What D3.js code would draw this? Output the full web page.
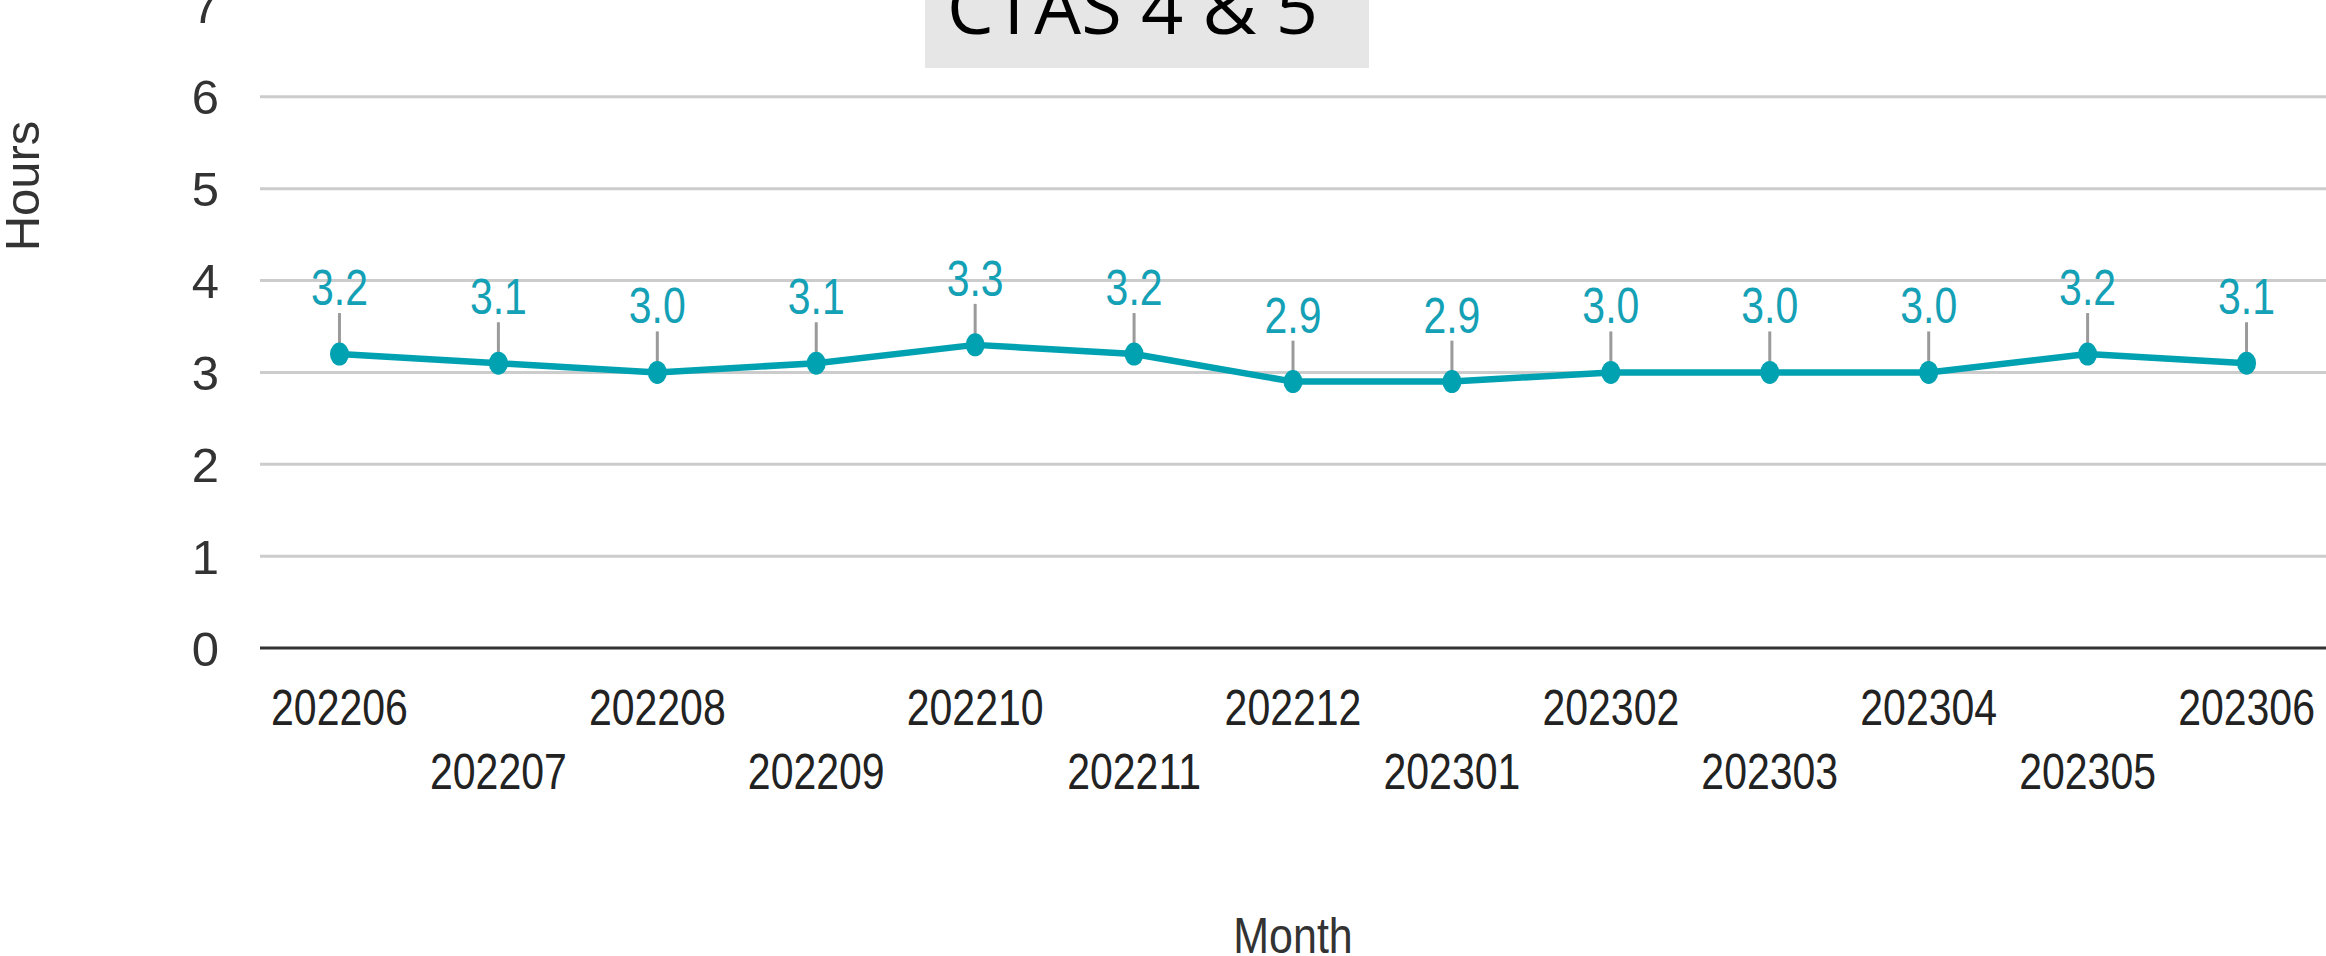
<!doctype html>
<html>
  <head>
    <script src="https://cdnjs.cloudflare.com/ajax/libs/d3/7.8.5/d3.min.js"></script>
    <style>
      html, body { margin: 0; padding: 0; background: #ffffff; overflow: hidden; }
      svg { display: block; }
    </style>
  </head>
  <body>
    <svg id="chart"></svg>
    <script>
      // data
      var months = ["202206", "202207", "202208", "202209", "202210", "202211", "202212",
                    "202301", "202302", "202303", "202304", "202305", "202306"];
      var hours = [3.2, 3.1, 3.0, 3.1, 3.3, 3.2, 2.9, 2.9, 3.0, 3.0, 3.0, 3.2, 3.1];
      var yTicks = [0, 1, 2, 3, 4, 5, 6, 7];
      var titleText = "CTAS 4 & 5";

      var width = 2326, height = 956;
      // plot area (window.top is reserved, so use other names)
      var plotLeft = 260, plotRight = 2326, plotTop = 5, plotBottom = 648;
      var teal = "#00a1b1", labelTeal = "#14a0b5";
      var narrow = 0.82;   // labels look horizontally squeezed

      var svg = d3.select("#chart").attr("width", width).attr("height", height);

      var x = d3.scalePoint().domain(months).range([plotLeft, plotRight]).padding(0.5);
      var y = d3.scaleLinear().domain([0, 7]).range([plotBottom, plotTop]);

      // grid lines (top one at 7 is not drawn)
      svg.append("g").selectAll("line")
        .data(yTicks.filter(function(d){ return d > 0 && d < 7; }))
        .enter().append("line")
          .attr("x1", plotLeft).attr("x2", plotRight)
          .attr("y1", function(d){ return y(d); })
          .attr("y2", function(d){ return y(d); })
          .attr("stroke", "#cccccc").attr("stroke-width", 3);

      // zero axis
      svg.append("line")
        .attr("x1", plotLeft).attr("x2", plotRight)
        .attr("y1", y(0)).attr("y2", y(0))
        .attr("stroke", "#333333").attr("stroke-width", 3);

      // y tick labels
      svg.append("g").selectAll("text")
        .data(yTicks).enter().append("text")
          .attr("x", 219).attr("y", function(d){ return y(d); })
          .attr("dy", "0.36em")
          .attr("text-anchor", "end")
          .attr("font-family", "Liberation Sans, Arial, sans-serif")
          .attr("font-size", 49).attr("fill", "#333333")
          .text(function(d){ return d; });

      // x tick labels, staggered on two rows
      svg.append("g").selectAll("text")
        .data(months).enter().append("text")
          .attr("transform", function(d, i){
            return "translate(" + x(d) + "," + (i % 2 === 0 ? 725 : 789) + ") scale(" + narrow + ",1)";
          })
          .attr("text-anchor", "middle")
          .attr("font-family", "Liberation Sans, Arial, sans-serif")
          .attr("font-size", 50).attr("fill", "#222222")
          .text(function(d){ return d; });

      // axis titles
      svg.append("text")
        .attr("transform", "translate(" + ((plotLeft + plotRight) / 2) + ",953) scale(0.86,1)")
        .attr("text-anchor", "middle")
        .attr("font-family", "Liberation Sans, Arial, sans-serif")
        .attr("font-size", 50).attr("fill", "#333333")
        .text("Month");

      svg.append("text")
        .attr("transform", "translate(39,186) rotate(-90)")
        .attr("text-anchor", "middle")
        .attr("font-family", "Liberation Sans, Arial, sans-serif")
        .attr("font-size", 49).attr("fill", "#333333")
        .text("Hours");

      // leader lines from labels to points
      svg.append("g").selectAll("line")
        .data(hours).enter().append("line")
          .attr("x1", function(d, i){ return x(months[i]); })
          .attr("x2", function(d, i){ return x(months[i]); })
          .attr("y1", function(d){ return y(d) - 41; })
          .attr("y2", function(d){ return y(d); })
          .attr("stroke", "#9a9a9a").attr("stroke-width", 3);

      // the line
      var line = d3.line()
        .x(function(d, i){ return x(months[i]); })
        .y(function(d){ return y(d); });
      svg.append("path")
        .datum(hours)
        .attr("d", line)
        .attr("fill", "none")
        .attr("stroke", teal).attr("stroke-width", 6.5)
        .attr("stroke-linejoin", "round");

      // points
      svg.append("g").selectAll("ellipse")
        .data(hours).enter().append("ellipse")
          .attr("cx", function(d, i){ return x(months[i]); })
          .attr("cy", function(d){ return y(d); })
          .attr("rx", 9.5).attr("ry", 11.5)
          .attr("fill", teal);

      // value labels
      svg.append("g").selectAll("text")
        .data(hours).enter().append("text")
          .attr("transform", function(d, i){
            return "translate(" + x(months[i]) + "," + (y(d) - 49) + ") scale(" + narrow + ",1)";
          })
          .attr("text-anchor", "middle")
          .attr("font-family", "Liberation Sans, Arial, sans-serif")
          .attr("font-size", 50).attr("fill", labelTeal)
          .text(function(d){ return d3.format(".1f")(d); });

      // title box at top, cut off by the page edge
      svg.append("rect")
        .attr("x", 925).attr("y", -20)
        .attr("width", 444).attr("height", 88)
        .attr("fill", "#e6e6e6");
      svg.append("text")
        .attr("x", 947).attr("y", 34)
        .attr("font-family", "Open Sans, Noto Sans, sans-serif")
        .attr("font-size", 74).attr("fill", "#000000")
        .text(titleText);
    </script>
  </body>
</html>
